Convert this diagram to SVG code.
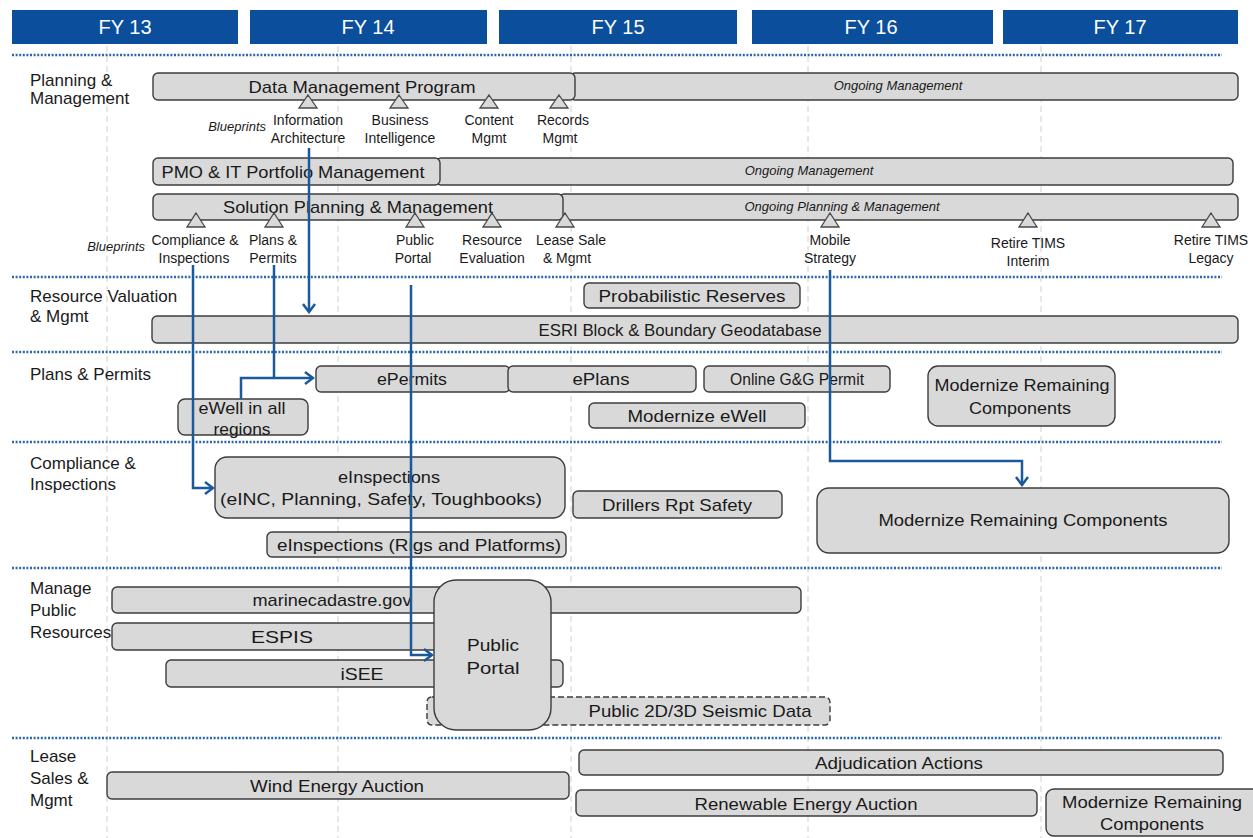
<svg xmlns="http://www.w3.org/2000/svg" width="1253" height="838" viewBox="0 0 1253 838">
<style>
text{font-family:"Liberation Sans",Arial,sans-serif;fill:#1a1a1a}
.hdr{fill:#0b4f9c}
.ht{fill:#fff;font-size:20px;text-anchor:middle}
.sep{stroke:#2c68a8;stroke-width:2.5;stroke-dasharray:2 1.6;fill:none}
.grid{stroke:#d0d0d0;stroke-width:1;stroke-dasharray:6 4;fill:none}
.bar{fill:#d9d9d9;stroke:#3c3c3c;stroke-width:1.4}
.dash{fill:#d9d9d9;stroke:#3c3c3c;stroke-width:1.4;stroke-dasharray:6 3}
.tri{fill:#d9d9d9;stroke:#4a4a4a;stroke-width:1.3}
.t{font-size:17px;text-anchor:middle}
.it{font-size:13px;font-style:italic;text-anchor:middle}
.sm{font-size:14px;text-anchor:middle}
.lbl{font-size:17px}
.bp{font-size:13px;font-style:italic;text-anchor:end}
.con{fill:none;stroke:#1a5a9a;stroke-width:2.5}
</style>
<defs>
<marker id="ah" markerWidth="12" markerHeight="14" refX="10" refY="7" orient="auto" markerUnits="userSpaceOnUse">
<path d="M2,1 L10,7 L2,13" fill="none" stroke="#1a5a9a" stroke-width="2.5"/>
</marker>
</defs>
<rect width="1253" height="838" fill="#fff"/>

<g id="grid">
<path class="grid" d="M107,46V838M338,46V838M571,46V838M808,46V838M1041,46V838"/>
</g>

<g id="headers">
<rect class="hdr" x="12" y="10" width="226" height="34"/><text class="ht" x="125" y="34">FY 13</text>
<rect class="hdr" x="250" y="10" width="237" height="34"/><text class="ht" x="368" y="34">FY 14</text>
<rect class="hdr" x="499" y="10" width="238" height="34"/><text class="ht" x="618" y="34">FY 15</text>
<rect class="hdr" x="752" y="10" width="241" height="34"/><text class="ht" x="871" y="34">FY 16</text>
<rect class="hdr" x="1003" y="10" width="235" height="34"/><text class="ht" x="1120" y="34">FY 17</text>
</g>

<g id="separators">
<path class="sep" d="M12,55H1222M12,277H1222M12,352H1222M12,442H1222M12,568H1222M12,738H1222"/>
</g>

<g id="row-labels">
<text class="lbl" x="30" y="86">Planning &amp;</text>
<text class="lbl" x="30" y="104">Management</text>
<text class="lbl" x="30" y="302">Resource Valuation</text>
<text class="lbl" x="30" y="322">&amp; Mgmt</text>
<text class="lbl" x="30" y="380">Plans &amp; Permits</text>
<text class="lbl" x="30" y="469">Compliance &amp;</text>
<text class="lbl" x="30" y="490">Inspections</text>
<text class="lbl" x="30" y="594">Manage</text>
<text class="lbl" x="30" y="616">Public</text>
<text class="lbl" x="30" y="638">Resources</text>
<text class="lbl" x="30" y="762">Lease</text>
<text class="lbl" x="30" y="784">Sales &amp;</text>
<text class="lbl" x="30" y="806">Mgmt</text>
</g>

<g id="dmp">
<rect class="bar" x="570" y="73" width="668" height="27" rx="5"/>
<text class="it" x="898" y="90">Ongoing Management</text>
<rect class="bar" x="153" y="73" width="422" height="27" rx="5"/>
<text class="t" x="362" y="93" textLength="227" lengthAdjust="spacingAndGlyphs">Data Management Program</text>
</g>

<g id="dmp-milestones">
<path class="tri" d="M308,95L317,108H299Z M399,95L408,108H390Z M489,95L498,108H480Z M559,95L568,108H550Z"/>
<text class="bp" x="266" y="131">Blueprints</text>
<text class="sm" x="308" y="125">Information</text><text class="sm" x="308" y="143">Architecture</text>
<text class="sm" x="400" y="125">Business</text><text class="sm" x="400" y="143">Intelligence</text>
<text class="sm" x="489" y="125">Content</text><text class="sm" x="489" y="143">Mgmt</text>
<text class="sm" x="563" y="125">Records</text><text class="sm" x="560" y="143">Mgmt</text>
</g>

<g id="pmo">
<rect class="bar" x="436" y="158" width="797" height="27" rx="5"/>
<text class="it" x="809" y="175">Ongoing Management</text>
<rect class="bar" x="153" y="158" width="287" height="27" rx="5"/>
<text class="t" x="293" y="178" textLength="263" lengthAdjust="spacingAndGlyphs">PMO &amp; IT Portfolio Management</text>
</g>

<g id="solution">
<rect class="bar" x="559" y="194" width="679" height="26" rx="5"/>
<text class="it" x="842" y="211">Ongoing Planning &amp; Management</text>
<rect class="bar" x="153" y="194" width="410" height="26" rx="5"/>
<text class="t" x="358" y="213" textLength="270" lengthAdjust="spacingAndGlyphs">Solution Planning &amp; Management</text>
</g>

<g id="solution-milestones">
<path class="tri" d="M196,213L205,227H187Z M274,213L283,227H265Z M415,213L424,227H406Z M492,213L501,227H483Z M565,213L574,227H556Z M830,213L839,227H821Z M1028,213L1037,227H1019Z M1211,213L1220,227H1202Z"/>
<text class="bp" x="145" y="251">Blueprints</text>
<text class="sm" x="195" y="245">Compliance &amp;</text><text class="sm" x="194" y="263">Inspections</text>
<text class="sm" x="273" y="245">Plans &amp;</text><text class="sm" x="273" y="263">Permits</text>
<text class="sm" x="415" y="245">Public</text><text class="sm" x="413" y="263">Portal</text>
<text class="sm" x="492" y="245">Resource</text><text class="sm" x="492" y="263">Evaluation</text>
<text class="sm" x="571" y="245">Lease Sale</text><text class="sm" x="567" y="263">&amp; Mgmt</text>
<text class="sm" x="830" y="245">Mobile</text><text class="sm" x="830" y="263">Strategy</text>
<text class="sm" x="1028" y="248">Retire TIMS</text><text class="sm" x="1028" y="266">Interim</text>
<text class="sm" x="1211" y="245">Retire TIMS</text><text class="sm" x="1211" y="263">Legacy</text>
</g>

<g id="probabilistic"><rect class="bar" x="584" y="283" width="216" height="25" rx="5"/><text class="t" x="692" y="302" textLength="187" lengthAdjust="spacingAndGlyphs">Probabilistic Reserves</text></g>
<g id="esri"><rect class="bar" x="152" y="316" width="1086" height="27" rx="5"/><text class="t" x="680" y="336" textLength="283" lengthAdjust="spacingAndGlyphs">ESRI Block &amp; Boundary Geodatabase</text></g>

<g id="epermits"><rect class="bar" x="316" y="366" width="194" height="26" rx="5"/><text class="t" x="412" y="385" textLength="70" lengthAdjust="spacingAndGlyphs">ePermits</text></g>
<g id="eplans"><rect class="bar" x="508" y="366" width="188" height="26" rx="5"/><text class="t" x="601" y="385" textLength="57" lengthAdjust="spacingAndGlyphs">ePlans</text></g>
<g id="online-gg"><rect class="bar" x="704" y="366" width="186" height="26" rx="5"/><text class="t" x="797" y="385" textLength="134" lengthAdjust="spacingAndGlyphs">Online G&amp;G Permit</text></g>
<g id="pp-modernize"><rect class="bar" x="928" y="366" width="187" height="60" rx="10"/><text class="t" x="1022" y="391" textLength="175" lengthAdjust="spacingAndGlyphs">Modernize Remaining</text><text class="t" x="1020" y="414" textLength="102" lengthAdjust="spacingAndGlyphs">Components</text></g>
<g id="ewell-all"><rect class="bar" x="178" y="399" width="130" height="36" rx="7"/><text class="t" x="242" y="414" textLength="87" lengthAdjust="spacingAndGlyphs">eWell in all</text><text class="t" x="242" y="435" textLength="57" lengthAdjust="spacingAndGlyphs">regions</text></g>
<g id="modernize-ewell"><rect class="bar" x="589" y="403" width="216" height="25" rx="5"/><text class="t" x="697" y="422" textLength="139" lengthAdjust="spacingAndGlyphs">Modernize eWell</text></g>

<g id="einspections"><rect class="bar" x="215" y="457" width="350" height="61" rx="12"/><text class="t" x="389" y="483" textLength="102" lengthAdjust="spacingAndGlyphs">eInspections</text><text class="t" x="381" y="505" textLength="322" lengthAdjust="spacingAndGlyphs">(eINC, Planning, Safety, Toughbooks)</text></g>
<g id="drillers"><rect class="bar" x="573" y="491" width="209" height="27" rx="5"/><text class="t" x="677" y="511" textLength="150" lengthAdjust="spacingAndGlyphs">Drillers Rpt Safety</text></g>
<g id="ci-modernize"><rect class="bar" x="817" y="488" width="412" height="65" rx="12"/><text class="t" x="1023" y="526" textLength="289" lengthAdjust="spacingAndGlyphs">Modernize Remaining Components</text></g>
<g id="einspections-rigs"><rect class="bar" x="267" y="532" width="299" height="25" rx="5"/><text class="t" x="419" y="551" textLength="284" lengthAdjust="spacingAndGlyphs">eInspections (Rigs and Platforms)</text></g>

<g id="marinecadastre"><rect class="bar" x="112" y="587" width="689" height="26" rx="5"/><text class="t" x="332" y="606" textLength="159" lengthAdjust="spacingAndGlyphs">marinecadastre.gov</text></g>
<g id="espis"><rect class="bar" x="112" y="623" width="370" height="27" rx="5"/><text class="t" x="282" y="643" textLength="62" lengthAdjust="spacingAndGlyphs">ESPIS</text></g>
<g id="isee"><rect class="bar" x="166" y="660" width="397" height="27" rx="5"/><text class="t" x="362" y="680" textLength="43" lengthAdjust="spacingAndGlyphs">iSEE</text></g>
<g id="seismic"><rect class="dash" x="427" y="697" width="403" height="28" rx="5"/><text class="t" x="700" y="717" textLength="223" lengthAdjust="spacingAndGlyphs">Public 2D/3D Seismic Data</text></g>
<g id="public-portal"><rect class="bar" x="434" y="580" width="117" height="150" rx="22"/><text class="t" x="493" y="651" textLength="52" lengthAdjust="spacingAndGlyphs">Public</text><text class="t" x="493" y="674" textLength="53" lengthAdjust="spacingAndGlyphs">Portal</text></g>

<g id="wind"><rect class="bar" x="107" y="772" width="462" height="27" rx="5"/><text class="t" x="337" y="792" textLength="174" lengthAdjust="spacingAndGlyphs">Wind Energy Auction</text></g>
<g id="adjudication"><rect class="bar" x="579" y="750" width="644" height="25" rx="5"/><text class="t" x="899" y="769" textLength="168" lengthAdjust="spacingAndGlyphs">Adjudication Actions</text></g>
<g id="renewable"><rect class="bar" x="576" y="790" width="461" height="26" rx="5"/><text class="t" x="806" y="810" textLength="223" lengthAdjust="spacingAndGlyphs">Renewable Energy Auction</text></g>
<g id="ls-modernize"><rect class="bar" x="1046" y="789" width="216" height="47" rx="8"/><text class="t" x="1152" y="808" textLength="180" lengthAdjust="spacingAndGlyphs">Modernize Remaining</text><text class="t" x="1152" y="830" textLength="104" lengthAdjust="spacingAndGlyphs">Components</text></g>

<g id="connectors">
<path class="con" d="M309,148V312" marker-end="url(#ah)"/>
<path class="con" d="M193,265V488H213" marker-end="url(#ah)"/>
<path class="con" d="M274,265V378"/>
<path class="con" d="M241,399V378H313" marker-end="url(#ah)"/>
<path class="con" d="M411,285V655H432" marker-end="url(#ah)"/>
<path class="con" d="M830,270V461H1022V485" marker-end="url(#ah)"/>
</g>
</svg>
